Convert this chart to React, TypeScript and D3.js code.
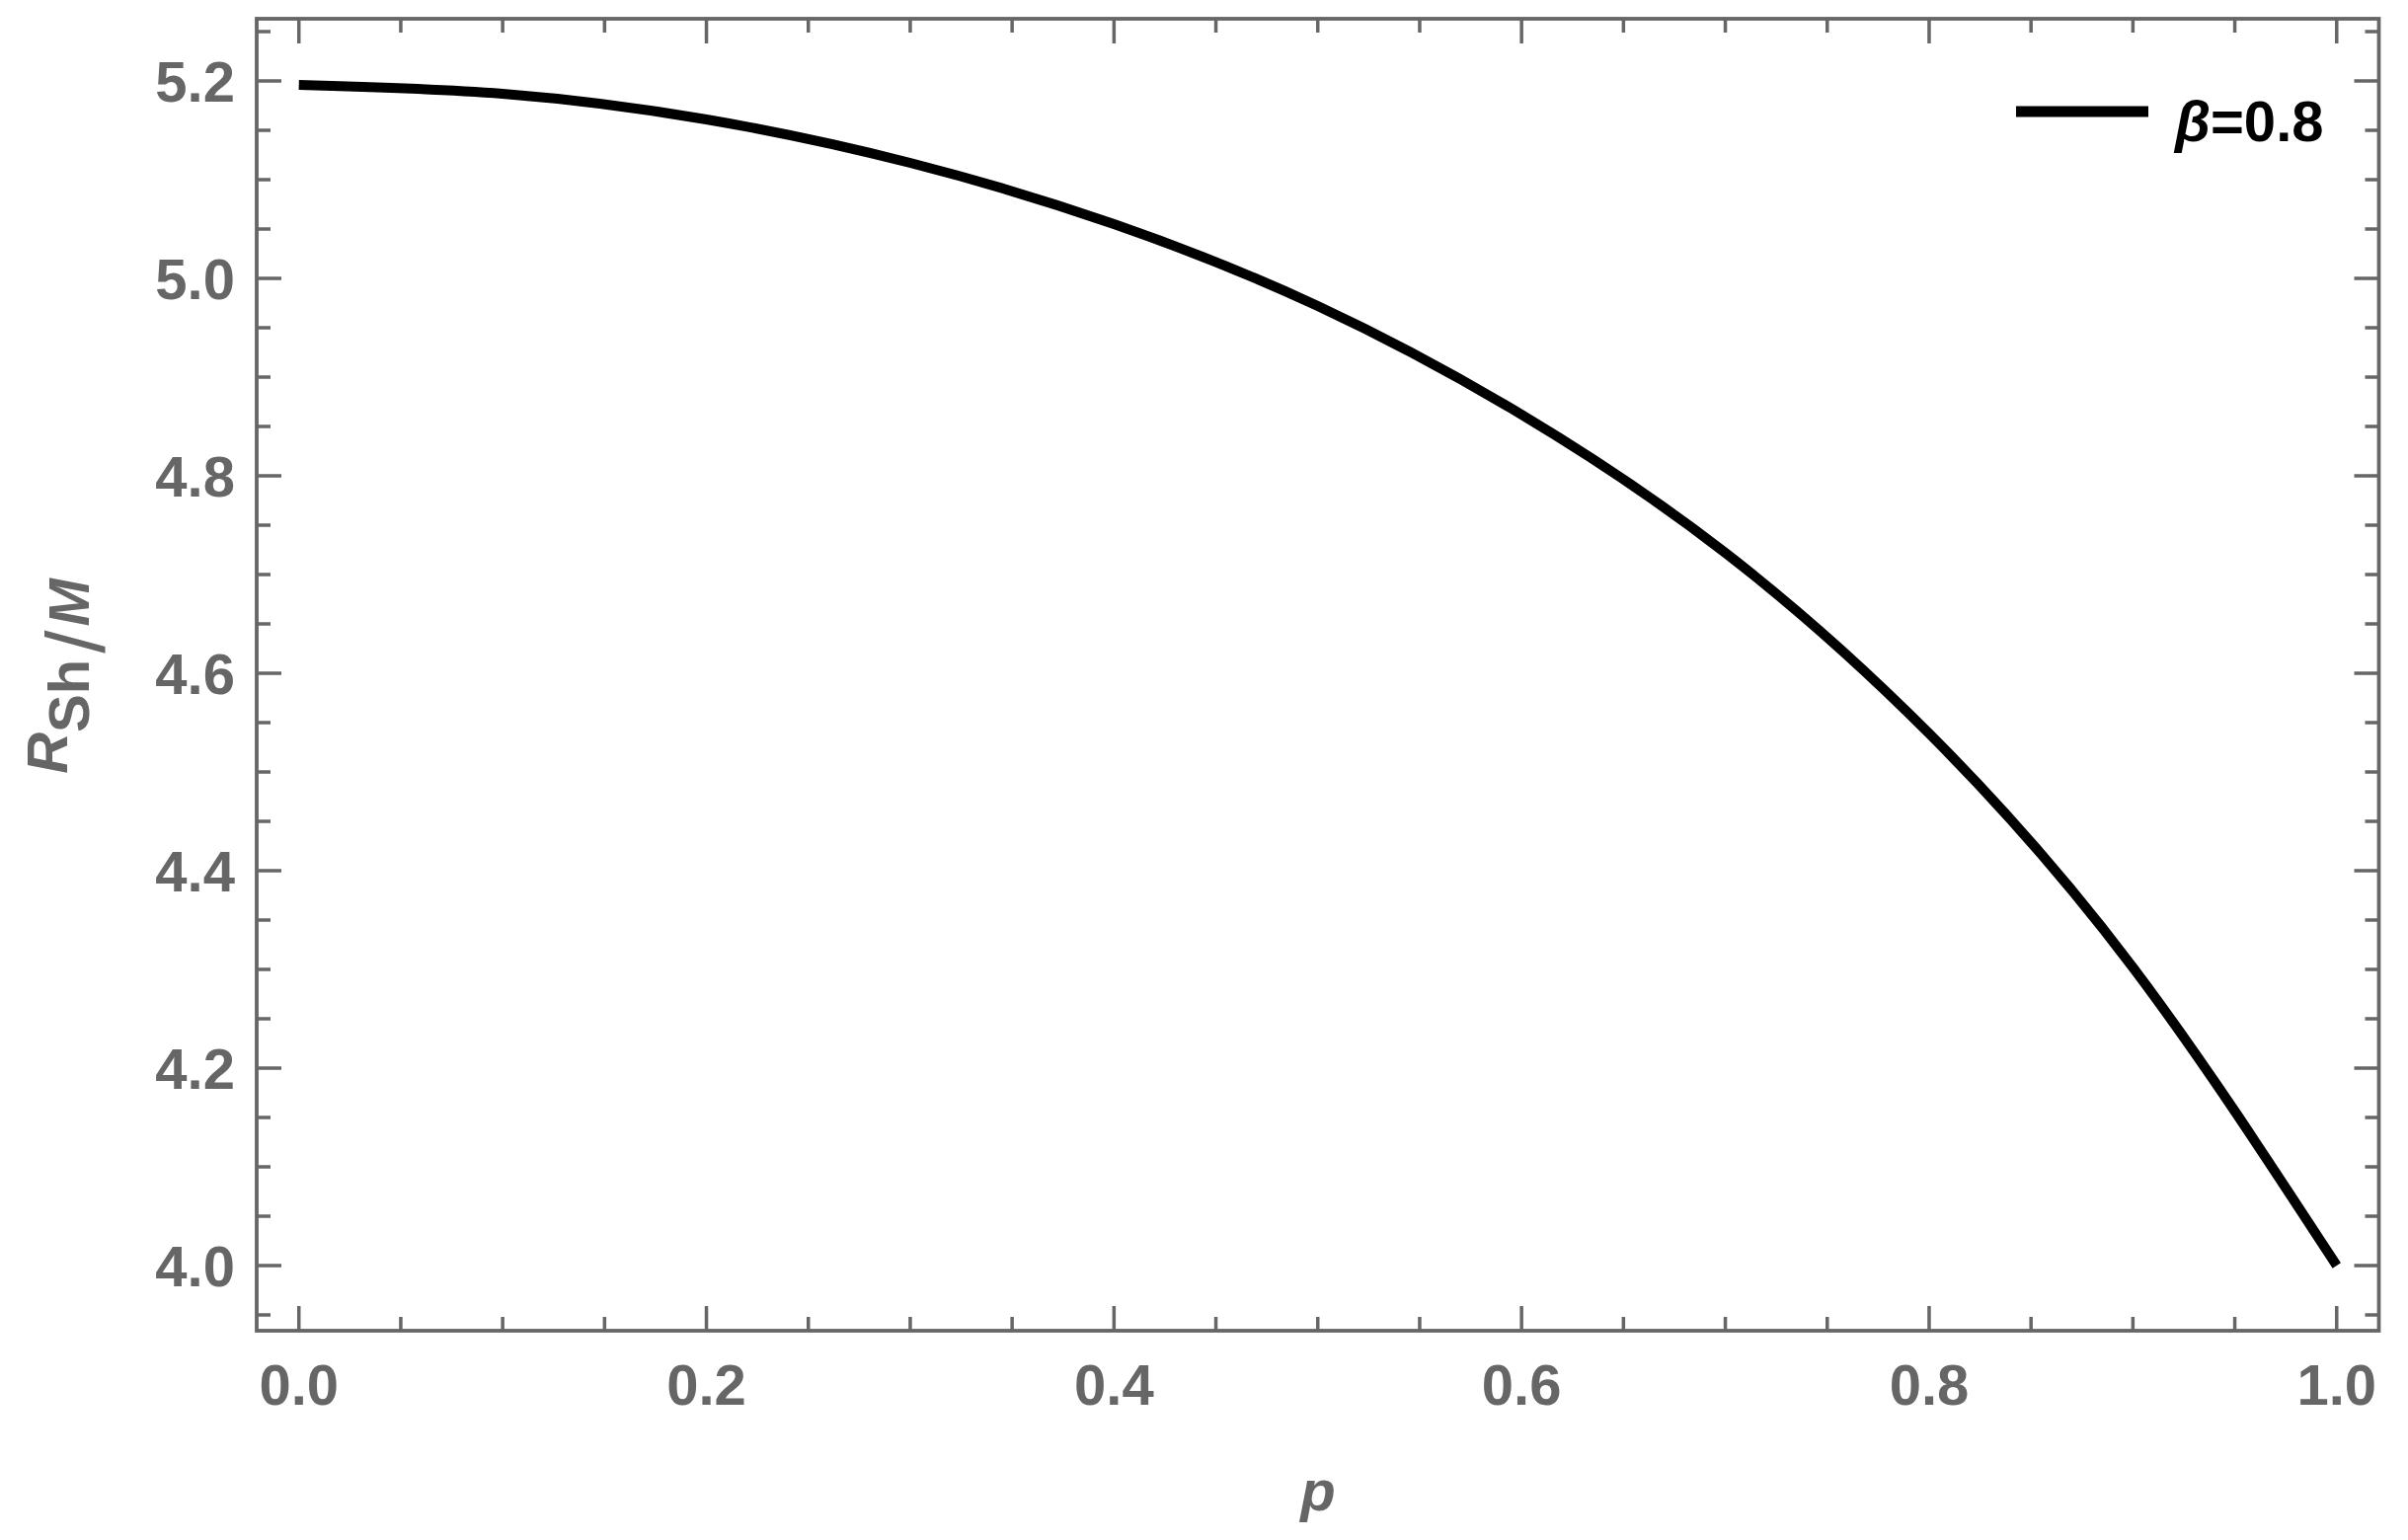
import React from "react";
import * as d3 from "d3";

const pValues = [0, 0.1, 0.2, 0.3, 0.4, 0.5, 0.6, 0.7, 0.8, 0.9, 1.0];
const rValues = [5.196, 5.187, 5.161, 5.117, 5.055, 4.972, 4.862, 4.722, 4.539, 4.302, 4.0];
const xMajorTicks = [0, 0.2, 0.4, 0.6, 0.8, 1.0];
const yMajorTicks = [4.0, 4.2, 4.4, 4.6, 4.8, 5.0, 5.2];
const legendLabel = "=0.8";

const W = 2439;
const H = 1560;
const GRAY = "#666666";
const FONT = "'Liberation Sans', Arial, sans-serif";

export default function App() {
  const left = 260, right = 2409.5, top = 19, bottom = 1348;
  const x = d3.scaleLinear().domain([-0.0207, 1.0207]).range([left, right]);
  const y = d3.scaleLinear().domain([3.934, 5.263]).range([bottom, top]);

  const xMinor = d3.range(0, 21).map((i) => i * 0.05).filter((v) => !xMajorTicks.some((m) => Math.abs(m - v) < 1e-9));
  const yMinor = d3.range(0, 27).map((i) => 3.95 + i * 0.05).filter((v) => v <= 5.26 && !yMajorTicks.some((m) => Math.abs(m - v) < 1e-9));

  const line = d3
    .line<number>()
    .x((_, i) => x(pValues[i]))
    .y((d) => y(d))
    .curve(d3.curveNatural);

  const majLen = 25, minLen = 14, tw = 3.5;

  return (
    <svg width={W} height={H} style={{ position: "absolute", left: 0, top: 0, background: "#fff" }} fontFamily={FONT}>
      <rect x={0} y={0} width={W} height={H} fill="#fff" />
      <g stroke={GRAY} strokeWidth={tw}>
        {xMajorTicks.map((t) => (
          <g key={"xm" + t}>
            <line x1={x(t)} x2={x(t)} y1={bottom} y2={bottom - majLen} />
            <line x1={x(t)} x2={x(t)} y1={top} y2={top + majLen} />
          </g>
        ))}
        {xMinor.map((t) => (
          <g key={"xn" + t}>
            <line x1={x(t)} x2={x(t)} y1={bottom} y2={bottom - minLen} />
            <line x1={x(t)} x2={x(t)} y1={top} y2={top + minLen} />
          </g>
        ))}
        {yMajorTicks.map((t) => (
          <g key={"ym" + t}>
            <line x1={left} x2={left + majLen} y1={y(t)} y2={y(t)} />
            <line x1={right} x2={right - majLen} y1={y(t)} y2={y(t)} />
          </g>
        ))}
        {yMinor.map((t) => (
          <g key={"yn" + t}>
            <line x1={left} x2={left + minLen} y1={y(t)} y2={y(t)} />
            <line x1={right} x2={right - minLen} y1={y(t)} y2={y(t)} />
          </g>
        ))}
      </g>
      <rect x={left} y={top} width={right - left} height={bottom - top} fill="none" stroke={GRAY} strokeWidth={3.8} />
      <path d={line(rValues) || ""} fill="none" stroke="#000" strokeWidth={10} strokeLinecap="butt" />
      <g fill={GRAY} fontWeight="bold" fontSize={58}>
        {yMajorTicks.map((t) => (
          <text key={"yl" + t} x={238} y={y(t) + 21} textAnchor="end">
            {t.toFixed(1)}
          </text>
        ))}
        {xMajorTicks.map((t) => (
          <text key={"xl" + t} x={x(t)} y={1423} textAnchor="middle">
            {t.toFixed(1)}
          </text>
        ))}
      </g>
      <text x={1335} y={1530} textAnchor="middle" fill={GRAY} fontWeight="bold" fontStyle="italic" fontSize={58}>
        p
      </text>
      <text transform="translate(68,685) rotate(-90)" textAnchor="middle" fill={GRAY} fontWeight="bold" fontSize={58}>
        <tspan fontStyle="italic">R</tspan>
        <tspan dy={22}>Sh</tspan>
        <tspan dx={6} dy={16} fontSize={84} fontWeight="normal">/</tspan>
        <tspan dx={4} dy={-16} fontStyle="italic">M</tspan>
      </text>
      <line x1={2042} x2={2176} y1={113} y2={113} stroke="#000" strokeWidth={11} />
      <text x={2203} y={143} fill="#000" fontWeight="bold" fontSize={58}>
        <tspan fontStyle="italic">β</tspan>
        <tspan>{legendLabel}</tspan>
      </text>
    </svg>
  );
}
